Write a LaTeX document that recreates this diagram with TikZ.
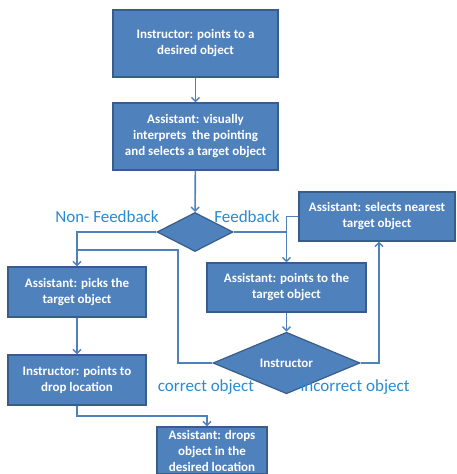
\documentclass[tikz,border=0pt]{standalone}
\usepackage{fontspec}
\setmainfont{Carlito}
\usetikzlibrary{shapes.geometric,arrows.meta}
\definecolor{boxfill}{HTML}{4F81BD}
\definecolor{boxline}{HTML}{385D8A}
\definecolor{lbl}{HTML}{2A8AD0}
\tikzset{
  box/.style={rectangle, fill=boxfill, draw=boxline, line width=1.2pt, text=white,
    font=\fontsize{13}{16}\selectfont\bfseries, align=center, inner sep=0pt},
  dia/.style={diamond, fill=boxfill, draw=boxline, line width=1.2pt, text=white,
    font=\fontsize{13}{16}\selectfont\bfseries, inner sep=0pt},
  conn/.style={draw=boxfill, line width=1.6pt},
  arr/.style={conn, -{Straight Barb[length=4pt,width=8pt,line width=1.4pt]}},
  lab/.style={text=lbl, font=\fontsize{17}{18}\selectfont}
}
\begin{document}
\begin{tikzpicture}[x=1pt,y=-1pt]
\useasboundingbox (0,0) rectangle (456,474);
\node[box, minimum width=165pt, minimum height=67pt] (b1) at (195.5,43.5) {Instructor: points to a\\desired object};
\node[box, minimum width=165pt, minimum height=67pt] (b2) at (195.5,136.5) {Assistant: visually\\interprets\ \ the pointing\\and selects a target object};
\node[dia, minimum width=76pt, minimum height=39pt] (d1) at (195,232) {};
\node[box, minimum width=156pt, minimum height=49pt] (b5) at (377,216.5) {Assistant: selects nearest\\target object};
\node[box, minimum width=138pt, minimum height=50pt] (b3) at (77,292) {Assistant: picks the\\target object};
\node[box, minimum width=159pt, minimum height=49pt] (b4) at (286.5,287.5) {Assistant: points to the\\target object};
\node[dia, minimum width=147pt, minimum height=40pt] (d2) at (286.5,363) {Instructor};
\node[box, minimum width=138pt, minimum height=50pt] (b6) at (77,380) {Instructor: points to\\drop location};
\node[box, minimum width=110pt, minimum height=47pt] (b7) at (212,450.5) {Assistant: drops\\object in the\\desired location};

\node[lab] (l1) at (107,217) {Non- Feedback};
\node[lab] (l2) at (247,217) {Feedback};
\node[lab] (l3) at (206,387) {correct object};
\node[lab] (l4) at (355,387) {incorrect object};

\coordinate (c1) at (77,232);
\coordinate (c2) at (178,363);
\coordinate (c3) at (178,250);
\coordinate (c4) at (77,250);
\coordinate (c5) at (286.5,232);
\coordinate (c6) at (379,363);
\coordinate (c7) at (77,416);
\coordinate (c8) at (207,416);

\draw[arr] (b1) -- (b2);
\draw[arr] (b2) -- (d1);
\draw[arr] (d1.west) -- (c1) -- (b3.north);
\draw[conn] (d2.west) -- (c2) -- (c3) -- (c4);
\draw[arr] (d1.east) -- (c5) -- (b4.north);
\draw[conn] (b5.west) -| (c5);
\draw[arr] (b4) -- (d2);
\draw[arr] (d2.east) -- (c6) -- (c6 |- b5.south);
\draw[arr] (b3) -- (b6);
\draw[arr] (b6.south) -- (c7) -- (c8) -- (c8 |- b7.north);
\end{tikzpicture}
\end{document}
